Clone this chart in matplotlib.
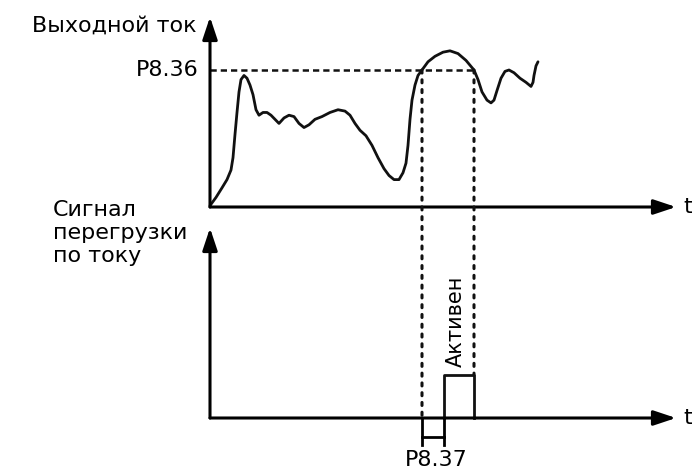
import matplotlib
matplotlib.use("Agg")
import matplotlib.pyplot as plt
from matplotlib.patches import ConnectionPatch

plt.rcParams['font.family'] = ['DejaVu Sans']

# output current over time (P8.36 level = 1.0)
t_curr = [0.0, 0.6, 1.2, 1.7, 2.1, 2.3, 2.5, 2.7, 2.9, 3.1, 3.4, 3.7, 4.0, 4.3,
          4.6, 4.9, 5.3, 5.7, 6.1, 6.5, 6.9, 7.4, 7.9, 8.4, 8.9, 9.4, 9.9, 10.5,
          11.2, 12.0, 12.8, 13.5, 14.0, 14.5, 15.0, 15.6, 16.2, 16.8, 17.4, 17.9,
          18.4, 18.9, 19.3, 19.6, 19.8, 20.0, 20.2, 20.5, 20.8, 21.2, 21.8, 22.5,
          23.3, 24.0, 24.8, 25.6, 26.4, 26.8, 27.2, 27.7, 28.1, 28.4, 28.7, 29.1,
          29.5, 29.9, 30.4, 31.0, 31.6, 32.1, 32.3, 32.4, 32.6, 32.8]
i_curr = [0.01, 0.07, 0.14, 0.20, 0.27, 0.36, 0.53, 0.69, 0.84, 0.93, 0.96, 0.94,
          0.89, 0.82, 0.71, 0.67, 0.69, 0.69, 0.67, 0.64, 0.61, 0.65, 0.67, 0.66,
          0.61, 0.58, 0.60, 0.64, 0.66, 0.69, 0.71, 0.70, 0.67, 0.61, 0.56, 0.52,
          0.45, 0.36, 0.28, 0.23, 0.20, 0.20, 0.25, 0.32, 0.45, 0.64, 0.78, 0.89,
          0.96, 1.00, 1.06, 1.10, 1.13, 1.14, 1.12, 1.07, 1.00, 0.93, 0.84, 0.78,
          0.76, 0.78, 0.85, 0.94, 0.99, 1.00, 0.98, 0.94, 0.91, 0.88, 0.91, 0.96,
          1.03, 1.06]

level_p836 = 1.0
cross_times = [21.2, 26.4]     # curve rises above / falls below P8.36
delay_p837 = 2.2
pulse_level = 1.0

pulse_on = cross_times[0] + delay_p837
pulse_off = cross_times[1]

fs = 16
W, H = 692, 473
fig = plt.figure(figsize=(W / 100, H / 100), dpi=100)
ax1 = fig.add_axes([210 / W, 1 - 207 / H, 466 / W, 190 / H])
ax2 = fig.add_axes([210 / W, 1 - 418 / H, 466 / W, 190 / H])
ax1.set_xlim(0, 46.6)
ax1.set_ylim(0, 190 / 137)
ax2.set_xlim(0, 46.6)
ax2.set_ylim(0, 190 / 43)

arrow = dict(arrowstyle='-|>,head_length=0.9,head_width=0.3', lw=2.2, color='k',
             mutation_scale=15, shrinkA=0, shrinkB=0)
for ax in (ax1, ax2):
    ax.axis('off')
    ax.annotate('', xy=(1, 0), xytext=(0, 0), xycoords='axes fraction', arrowprops=arrow)
    ax.annotate('', xy=(0, 1), xytext=(0, 0), xycoords='axes fraction', arrowprops=arrow)
    ax.text(1.015, 0, 't', transform=ax.transAxes, fontsize=fs, ha='left', va='center')

# current curve and threshold
ax1.plot(t_curr, i_curr, color='#111111', lw=2, clip_on=False,
         solid_joinstyle='round', solid_capstyle='round')
ax1.plot([0, cross_times[1]], [level_p836, level_p836], color='#111111', lw=1.8,
         dashes=(2.5, 1.6))
ax1.annotate('P8.36', xy=(0, level_p836), xytext=(-8, 0), textcoords='offset points',
             fontsize=fs, ha='right', va='center')

# overload signal pulse
ax2.plot([pulse_on, pulse_on, pulse_off, pulse_off], [0, pulse_level, pulse_level, 0],
         color='#111111', lw=2, clip_on=False)
ax2.text((pulse_on + pulse_off) / 2 - 0.3, 2.26, 'Активен', rotation=90, fontsize=15,
         ha='center', va='center')

# P8.37 delay bracket under the time axis
ax2.plot([cross_times[0], cross_times[0]], [0, -0.62], color='k', lw=2, clip_on=False)
ax2.plot([pulse_on, pulse_on], [0, -0.62], color='k', lw=2, clip_on=False)
ax2.plot([cross_times[0], pulse_on], [-0.45, -0.45], color='k', lw=2, clip_on=False)
ax2.text((cross_times[0] + pulse_on) / 2 + 0.3, -0.75, 'P8.37', fontsize=fs,
         ha='center', va='top')

# dotted guides from the threshold crossings down to the signal
for t, y_end in ((cross_times[0], 0), (cross_times[1], pulse_level)):
    con = ConnectionPatch(xyA=(t, level_p836), coordsA=ax1.transData,
                          xyB=(t, y_end), coordsB=ax2.transData,
                          color='#111111', lw=2.2, linestyle=(0, (1, 2.2)))
    fig.add_artist(con)

fig.text(197 / W, 1 - 32 / H, 'Выходной ток', fontsize=fs, ha='right', va='baseline')
fig.text(53 / W, 1 - 200 / H, 'Сигнал\nперегрузки\nпо току', fontsize=fs, ha='left',
         va='top', linespacing=1.2)

fig.savefig('out.png', dpi=100)
